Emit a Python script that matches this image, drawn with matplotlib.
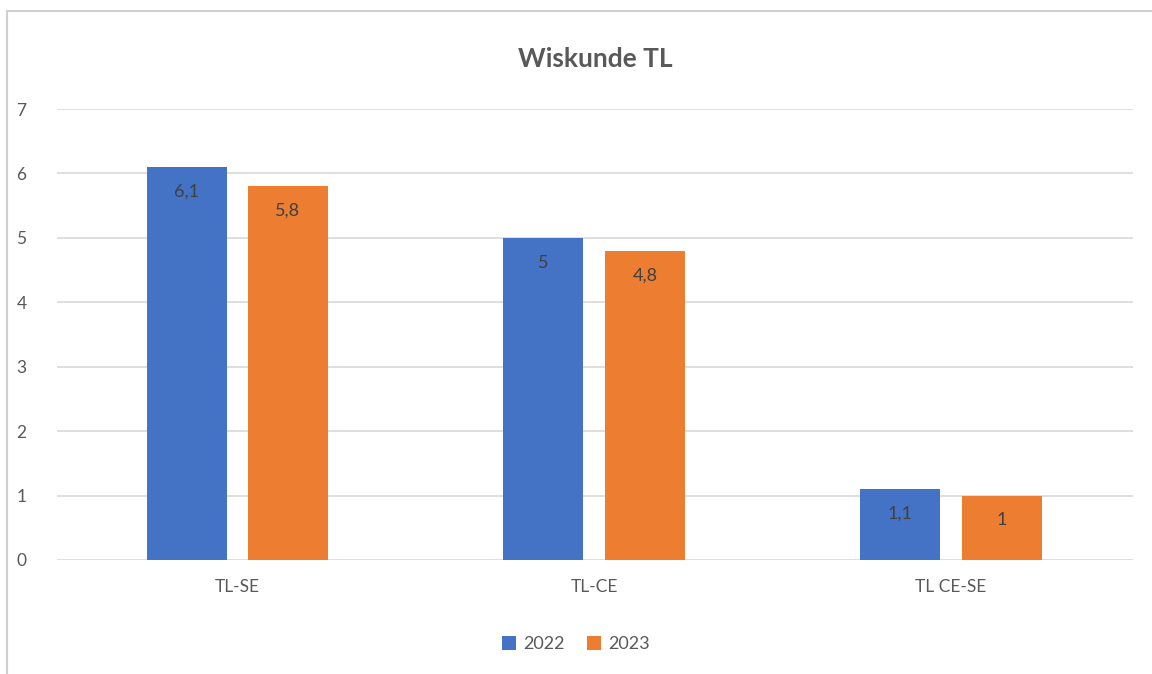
import matplotlib
matplotlib.use("Agg")
import matplotlib.pyplot as plt
import numpy as np
from matplotlib.lines import Line2D

categories = ["TL-SE", "TL-CE", "TL CE-SE"]
series_names = ["2022", "2023"]
values_2022 = [6.1, 5.0, 1.1]
values_2023 = [5.8, 4.8, 1.0]
colors = ["#4472C4", "#ED7D31"]

plt.rcParams['font.family'] = ['Lato', 'DejaVu Sans']

fig = plt.figure(figsize=(11.52, 6.74), dpi=100)
ax = fig.add_axes([57/1152, 1-560/674, (1133-57)/1152, (560-109)/674])

x = np.arange(len(categories))
w = 0.224
off = 0.142
for vals, c, o, name in [(values_2022, colors[0], -off, series_names[0]),
                         (values_2023, colors[1], off, series_names[1])]:
    bars = ax.bar(x + o, vals, w, color=c, label=name, zorder=3)
    for b, v in zip(bars, vals):
        lab = f"{v:g}".replace(".", ",")
        ax.annotate(lab, (b.get_x() + b.get_width()/2, v), xytext=(0, -12),
                    textcoords="offset points", ha="center", va="top",
                    fontsize=13, color="#404040", zorder=4)

ax.set_xlim(-0.505, 2.51)
ax.set_ylim(0, 7)
ax.set_yticks(range(0, 8))
ax.set_xticks(x)
ax.set_xticklabels(categories)
ax.grid(axis="y", color="#D9D9D9", linewidth=1.2, zorder=0)
for s in ax.spines.values():
    s.set_visible(False)
ax.tick_params(axis="both", length=0, labelsize=12.5, labelcolor="#595959")
ax.tick_params(axis="y", pad=22)
ax.tick_params(axis="x", pad=14)

ax.set_title("Wiskunde TL", fontsize=19, fontweight="bold", color="#595959", pad=30)

leg = fig.legend(loc="center", bbox_to_anchor=(0.5, 1-644/674), ncol=2, frameon=False,
                 fontsize=13, handlelength=0.8, handleheight=0.8, handletextpad=0.4,
                 columnspacing=1.2, labelcolor="#595959")

# chart border
fig.add_artist(Line2D([7/1152, 7/1152], [0, 1-11/674], color="#D0D0D0", linewidth=1.5,
                      transform=fig.transFigure))
fig.add_artist(Line2D([7/1152, 1], [1-11/674, 1-11/674], color="#D0D0D0", linewidth=1.5,
                      transform=fig.transFigure))

fig.savefig("out.png", dpi=100)
